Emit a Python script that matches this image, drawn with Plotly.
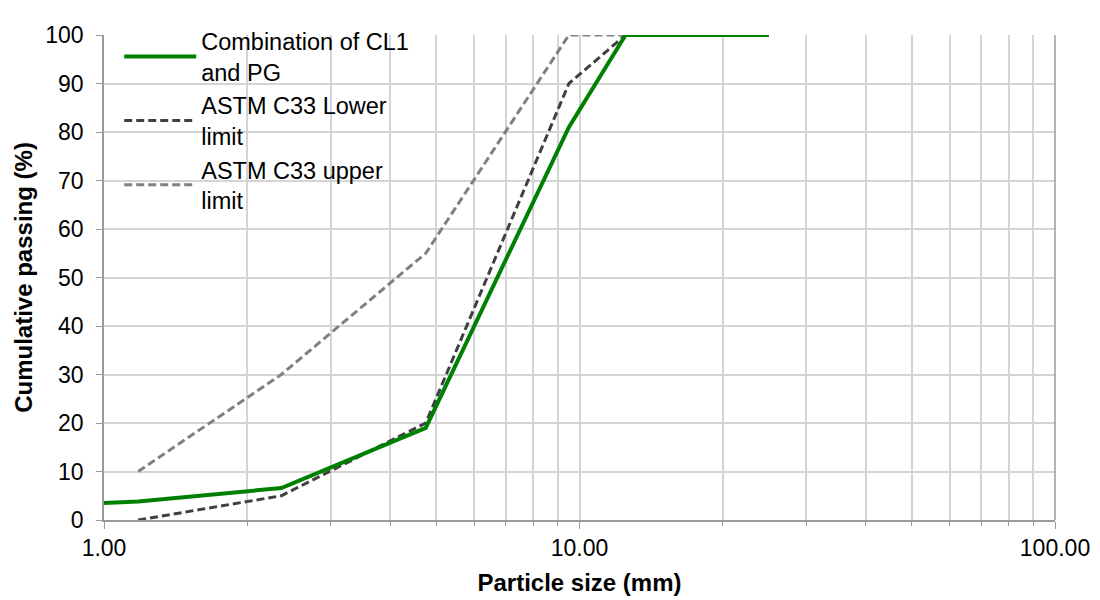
import plotly.graph_objects as go

# Particle sizes (mm) and cumulative passing (%)
blend_size = [1.0, 1.18, 2.36, 4.75, 9.5, 12.5, 25.0]
blend_pass = [3.5, 3.8, 6.6, 19.0, 81.0, 100.0, 100.0]

sieve_size = [1.18, 2.36, 4.75, 9.5, 12.5, 25.0]
lower_pass = [0, 5, 20, 90, 100, 100]
upper_pass = [10, 30, 55, 100, 100, 100]

x_major = [1, 10, 100]
x_minor = [2, 3, 4, 5, 6, 7, 8, 9, 20, 30, 40, 50, 60, 70, 80, 90]

FONT = "Liberation Sans, Arial, sans-serif"
GRID = "#d4d4d4"
AXIS = "#9a9a9a"

fig = go.Figure()
fig.add_trace(go.Scatter(
    x=sieve_size, y=upper_pass, mode="lines",
    name="ASTM C33 upper<br>limit",
    line=dict(color="#808080", width=3, dash="8px,4px"),
))
fig.add_trace(go.Scatter(
    x=sieve_size, y=lower_pass, mode="lines",
    name="ASTM C33 Lower<br>limit",
    line=dict(color="#404040", width=3, dash="8px,4px"),
))
fig.add_trace(go.Scatter(
    x=blend_size, y=blend_pass, mode="lines",
    name="Combination of CL1<br>and PG",
    line=dict(color="#008000", width=4),
))

fig.update_layout(
    width=1100, height=600,
    plot_bgcolor="white", paper_bgcolor="white",
    margin=dict(l=96, r=53, t=26, b=88),
    font=dict(family=FONT, size=23, color="black"),
    legend=dict(
        x=0.016, y=1.03, xanchor="left", yanchor="top",
        bgcolor="rgba(0,0,0,0)", traceorder="reversed",
        font=dict(size=23.5), tracegroupgap=0, itemwidth=72,
    ),
    showlegend=True,
)

fig.update_xaxes(
    type="log", range=[0, 2],
    tickvals=x_major, ticktext=["1.00", "10.00", "100.00"],
    ticks="outside", ticklen=7, tickcolor=AXIS,
    showgrid=True, gridcolor=GRID, gridwidth=1.5,
    minor=dict(tickvals=x_minor, showgrid=True, gridcolor=GRID, gridwidth=1.5,
               ticks="outside", ticklen=4, tickcolor=AXIS),
    showline=True, linecolor=AXIS, linewidth=1.5, mirror=False,
    title=dict(text="<b>Particle size (mm)</b>", font=dict(size=24), standoff=14),
    tickfont=dict(size=23),
    zeroline=False,
)
fig.update_yaxes(
    range=[0, 100], dtick=10,
    ticks="outside", ticklen=6, tickcolor=AXIS,
    showgrid=True, gridcolor=GRID, gridwidth=1.5,
    showline=True, linecolor=AXIS, linewidth=1.5,
    ticklabelstandoff=8,
    title=dict(text="<b>Cumulative passing (%)</b>", font=dict(size=24), standoff=6),
    tickfont=dict(size=23),
    zeroline=False,
)
# right border at 100 mm
fig.add_shape(type="line", xref="paper", yref="paper", x0=1, x1=1, y0=0, y1=1,
              line=dict(color=AXIS, width=1.5))

fig.write_html("out.html")
